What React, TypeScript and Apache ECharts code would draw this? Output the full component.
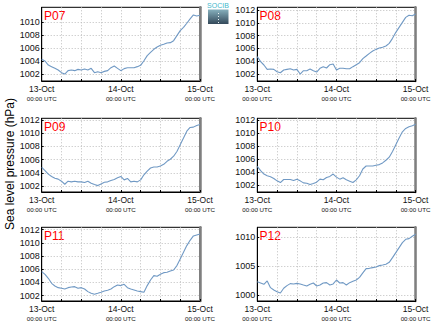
import React, { useEffect, useRef } from 'react';
import * as echarts from 'echarts';

const panelNames = ['P07', 'P08', 'P09', 'P10', 'P11', 'P12'];
const dateLabels = ['13-Oct', '14-Oct', '15-Oct'];
const timeLabel = '00:00 UTC';
const yTitle = 'Sea level pressure (hPa)';
const logoText = 'SOCIB';

// hours since 13-Oct 00:00 UTC
const hours = [
  0, 1, 2, 3, 4, 5, 6, 7, 8, 9, 10, 11, 12, 13, 14, 15, 16, 17, 18, 19, 20, 21, 22, 23, 24,
  25, 26, 27, 28, 29, 30, 31, 32, 33, 34, 35, 36, 37, 38, 39, 40, 41, 42, 43, 44, 45, 46, 47, 48,
];

const p07 = [
  1004.27, 1004.01, 1003.39, 1003.14, 1002.88, 1002.62, 1002.21, 1002.0, 1002.52, 1002.62,
  1002.52, 1002.72, 1002.62, 1002.77, 1002.62, 1002.88, 1002.21, 1002.36, 1002.21, 1002.41,
  1002.52, 1002.98, 1003.24, 1002.88, 1002.52, 1002.83, 1002.98, 1002.98, 1002.98, 1003.14,
  1003.34, 1004.06, 1004.84, 1005.35, 1005.82, 1006.18, 1006.44, 1006.59, 1006.8, 1006.85,
  1007.16, 1007.94, 1008.71, 1009.23, 1009.85, 1010.52, 1011.14, 1010.98, 1011.08,
];
const p08 = [
  1004.71, 1003.93, 1003.41, 1002.73, 1002.78, 1002.73, 1002.36, 1002.2, 1002.63, 1002.73,
  1002.83, 1002.63, 1002.73, 1002.0, 1002.52, 1002.52, 1002.78, 1002.52, 1002.31, 1002.89,
  1003.15, 1002.94, 1003.46, 1003.56, 1002.63, 1002.89, 1002.89, 1002.83, 1002.83, 1003.15,
  1003.46, 1003.77, 1004.4, 1004.81, 1005.23, 1005.59, 1005.85, 1006.06, 1006.17, 1006.38,
  1006.79, 1007.57, 1008.51, 1009.29, 1010.07, 1010.85, 1011.17, 1011.11, 1011.38,
];
const p09 = [
  1004.82, 1004.31, 1003.79, 1003.44, 1003.18, 1003.03, 1002.72, 1002.26, 1002.72, 1002.62,
  1002.72, 1002.62, 1002.62, 1002.51, 1002.72, 1002.41, 1002.21, 1002.05, 1002.31, 1002.56,
  1002.62, 1002.82, 1002.97, 1003.23, 1003.44, 1002.92, 1003.13, 1002.62, 1002.72, 1002.62,
  1002.92, 1003.69, 1004.26, 1004.72, 1004.87, 1004.87, 1005.03, 1005.28, 1005.74, 1006.05,
  1006.51, 1007.23, 1008.26, 1009.28, 1010.31, 1010.87, 1010.92, 1011.18, 1011.33,
];
const p10 = [
  1004.9, 1004.23, 1003.71, 1003.45, 1003.3, 1003.04, 1002.67, 1002.41, 1002.88, 1002.88,
  1002.88, 1002.73, 1002.93, 1002.67, 1002.36, 1002.31, 1002.1, 1002.26, 1002.47, 1002.93,
  1002.83, 1003.19, 1003.35, 1003.71, 1003.24, 1002.93, 1003.14, 1002.83, 1002.62, 1002.41,
  1002.83, 1003.45, 1004.49, 1004.95, 1004.95, 1004.95, 1005.06, 1005.16, 1005.42, 1005.83,
  1006.3, 1007.18, 1008.22, 1009.25, 1010.19, 1010.7, 1010.96, 1011.12, 1011.33,
];
const p11 = [
  1005.64, 1005.23, 1004.63, 1003.87, 1003.46, 1003.21, 1003.11, 1003.01, 1003.21, 1003.31,
  1003.36, 1003.11, 1003.21, 1003.01, 1002.61, 1002.35, 1002.2, 1002.35, 1002.51, 1002.71,
  1002.81, 1003.01, 1003.36, 1003.62, 1003.52, 1003.72, 1003.21, 1003.01, 1002.86, 1002.71,
  1002.61, 1002.51, 1003.52, 1004.37, 1005.03, 1004.93, 1005.23, 1005.48, 1005.54, 1005.74,
  1005.89, 1006.55, 1007.56, 1008.57, 1009.58, 1010.38, 1011.04, 1011.19, 1011.34,
];
const p12 = [
  1002.31, 1002.08, 1001.85, 1002.43, 1001.27, 1000.87, 1000.58, 1000.35, 1001.16, 1001.62,
  1001.97, 1001.91, 1002.02, 1001.91, 1001.73, 1001.56, 1001.85, 1002.08, 1001.56, 1001.73,
  1002.08, 1002.14, 1001.73, 1001.91, 1002.6, 1002.08, 1002.14, 1001.73, 1002.14, 1002.37,
  1002.6, 1003.06, 1003.82, 1004.57, 1004.62, 1004.74, 1004.86, 1005.09, 1005.2, 1005.32,
  1005.66, 1006.47, 1007.34, 1008.21, 1009.08, 1009.65, 1009.77, 1010.17, 1010.52,
];
const panelValues = [p07, p08, p09, p10, p11, p12];

const yMins = [1000.92, 1000.91, 1001.08, 1000.96, 1001.19, 998.96];
const yMaxs = [1012.32, 1012.42, 1012.26, 1012.26, 1012.35, 1011.73];
const yTicks = [
  [1002, 1004, 1006, 1008, 1010],
  [1002, 1004, 1006, 1008, 1010, 1012],
  [1002, 1004, 1006, 1008, 1010, 1012],
  [1002, 1004, 1006, 1008, 1010, 1012],
  [1002, 1004, 1006, 1008, 1010, 1012],
  [1000, 1005, 1010],
];
const xTickValues = [0, 24, 48];

const FONT = 'Liberation Sans, Arial, sans-serif';

function buildOption() {
  const colLefts = [41.7, 257.3];
  const gridWidth = 158.3;
  const rowTops = [7.3, 118.3, 227.3];
  const gridHeight = 73.7;
  const dotted = { color: '#bdbdbd', width: 1, type: [1, 2] as any };

  const grids: any[] = [];
  const xAxes: any[] = [];
  const yAxes: any[] = [];
  const series: any[] = [];
  const graphics: any[] = [];

  panelNames.forEach((name, i) => {
    const row = Math.floor(i / 2);
    const col = i % 2;
    const left = colLefts[col];
    const top = rowTops[row];
    grids.push({
      left, top, width: gridWidth, height: gridHeight,
      show: true, borderColor: '#000', borderWidth: 1, backgroundColor: 'transparent',
      containLabel: false,
    });
    xAxes.push({
      type: 'value', gridIndex: i, min: 0, max: 48, interval: 6,
      axisLine: { show: true, lineStyle: { color: '#000', width: 1 } },
      axisTick: { show: true, inside: true, length: 2, lineStyle: { color: '#000' } },
      axisLabel: {
        customValues: xTickValues,
        margin: 3,
        formatter: (v: number) => `{a|${dateLabels[Math.round(v / 24)]}}\n{b|${timeLabel}}`,
        rich: {
          a: { fontSize: 8.5, lineHeight: 10, color: '#111', fontFamily: FONT },
          b: { fontSize: 6.2, lineHeight: 9, color: '#111', fontFamily: FONT },
        },
      },
      splitLine: { show: true, lineStyle: dotted },
    });
    yAxes.push({
      type: 'value', gridIndex: i, min: yMins[i], max: yMaxs[i],
      axisLine: { show: true, lineStyle: { color: '#000', width: 1 } },
      axisTick: { show: true, inside: true, length: 2, customValues: yTicks[i], lineStyle: { color: '#000' } },
      axisLabel: {
        customValues: yTicks[i], fontSize: 9, margin: 2, color: '#111', fontFamily: FONT,
        formatter: (v: number) => String(Math.round(v)),
      },
      splitLine: { show: true, lineStyle: dotted },
    });
    series.push({
      type: 'line', name, xAxisIndex: i, yAxisIndex: i,
      data: hours.map((h, k) => [h, panelValues[i][k]]),
      showSymbol: false, symbol: 'none',
      lineStyle: { color: '#7099c4', width: 1.1 },
      clip: true,
    });
    graphics.push({
      type: 'text', x: left + 2.3, y: top + 2.5,
      style: { text: name, fontSize: 12, fill: '#ff0000', fontFamily: FONT, verticalAlign: 'top', align: 'left' },
    });
  });

  // right-hand grey frame edges
  panelNames.forEach((_, i) => {
    yAxes.push({
      type: 'value', gridIndex: i, position: 'right', min: yMins[i], max: yMaxs[i],
      axisLine: { show: true, lineStyle: { color: '#7f7f7f', width: 2.5 } },
      axisTick: { show: false }, axisLabel: { show: false }, splitLine: { show: false },
    });
  });

  graphics.push({
    type: 'text', x: 10, y: 164, rotation: Math.PI / 2,
    style: { text: yTitle, fontSize: 12, fill: '#000', fontFamily: FONT, align: 'center', verticalAlign: 'middle' },
  });
  // logo
  graphics.push({
    type: 'text', x: 218, y: 5.5,
    style: { text: logoText, fontSize: 7, fill: '#3fb8cc', fontFamily: FONT, align: 'center', verticalAlign: 'middle' },
  });
  graphics.push({
    type: 'rect', shape: { x: 208, y: 9.5, width: 20.5, height: 14.5 },
    style: {
      fill: new echarts.graphic.LinearGradient(0, 0, 0, 1, [
        { offset: 0, color: '#86b0bd' },
        { offset: 1, color: '#34495a' },
      ]),
    },
  });
  graphics.push({
    type: 'line', shape: { x1: 218.5, y1: 13, x2: 218.5, y2: 23 },
    style: { stroke: '#e8f0f2', lineWidth: 1, lineDash: [1, 2] },
  });

  return {
    animation: false,
    textStyle: { fontFamily: FONT },
    grid: grids,
    xAxis: xAxes,
    yAxis: yAxes,
    series,
    graphic: graphics,
  };
}

export default function App() {
  const ref = useRef<HTMLDivElement>(null);
  useEffect(() => {
    if (!ref.current) return;
    const chart = echarts.init(ref.current, null, { renderer: 'svg' });
    chart.setOption(buildOption() as any);
    return () => chart.dispose();
  }, []);
  return (
    <div
      ref={ref}
      style={{ position: 'fixed', left: 0, top: 0, width: 435, height: 327, background: '#fff' }}
    />
  );
}
